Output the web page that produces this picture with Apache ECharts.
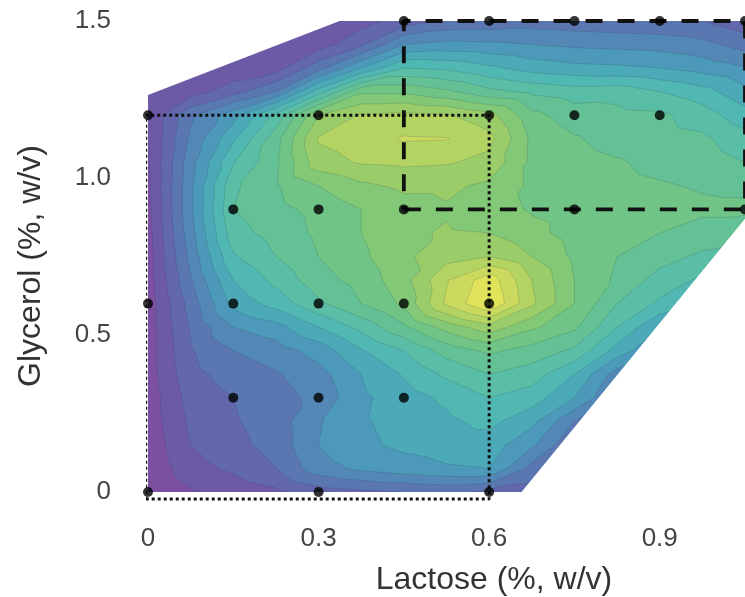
<!DOCTYPE html>
<html><head><meta charset="utf-8">
<script src="https://cdn.jsdelivr.net/npm/echarts@6/dist/echarts.min.js"></script>
<style>html,body{margin:0;padding:0;background:#fff}#chart{width:745px;height:597px}</style>
</head><body><div id="chart"></div>
<script>
// ---- grid of the response surface (lactose across, glycerol up) ----
const lactoseLevels = [0, 0.075, 0.15, 0.225, 0.3, 0.375, 0.45, 0.525, 0.6, 0.675, 0.75, 0.825, 0.9, 0.975, 1.05];
const glycerolLevels = [0, 0.075, 0.15, 0.225, 0.3, 0.375, 0.45, 0.525, 0.6, 0.675, 0.75, 0.825, 0.9, 0.975, 1.05, 1.125, 1.2, 1.275, 1.35, 1.425, 1.5];
// response (contour-band units), one row per glycerol level
const g000 = [0.0, 0.9, 1.3, 1.8, 2.5, 2.8, 3.0, 3.2, 2.8, 2.6, 2.5, 2.5, 2.5, 2.5, 2.5];
const g075 = [0.2, 1.6, 2.2, 3.0, 4.6, 5.2, 5.6, 5.9, 6.0, 3.6, 2.8, 2.8, 2.8, 2.8, 2.8];
const g150 = [0.3, 2.0, 2.7, 3.4, 5.0, 5.8, 6.2, 6.4, 6.5, 5.2, 3.0, 3.0, 3.0, 3.0, 3.0];
const g225 = [0.4, 2.2, 2.9, 3.5, 4.9, 5.9, 6.3, 6.8, 7.3, 6.3, 4.0, 3.3, 3.3, 3.3, 3.3];
const g300 = [0.4, 2.4, 3.0, 3.6, 4.3, 5.8, 6.5, 7.2, 8.0, 7.5, 6.0, 3.8, 3.6, 3.6, 3.6];
const g375 = [0.5, 2.7, 3.4, 3.9, 4.6, 6.0, 7.1, 8.2, 9.0, 8.5, 7.0, 4.5, 4.2, 4.2, 4.2];
const g450 = [0.5, 2.9, 4.0, 4.5, 5.4, 6.9, 8.0, 9.4, 10.2, 9.6, 8.8, 6.6, 5.0, 5.0, 5.0];
const g525 = [0.5, 3.1, 5.0, 5.6, 7.0, 8.3, 9.8, 11.4, 12.6, 11.2, 10.2, 8.0, 6.0, 6.0, 6.0];
const g600 = [0.4, 3.4, 6.3, 7.4, 8.8, 10.0, 11.2, 14.2, 16.0, 13.2, 11.0, 9.0, 7.8, 7.0, 7.0];
const g675 = [0.5, 3.9, 7.0, 8.3, 9.6, 10.4, 11.6, 13.9, 15.6, 13.0, 11.0, 9.8, 8.6, 7.8, 7.8];
const g750 = [0.5, 4.3, 7.9, 9.0, 10.0, 10.8, 11.8, 12.6, 13.0, 12.0, 10.8, 10.0, 9.4, 8.8, 8.6];
const g825 = [0.6, 4.6, 8.6, 9.4, 10.2, 11.0, 11.8, 12.1, 12.0, 11.3, 10.6, 10.3, 10.0, 9.6, 9.4];
const g900 = [0.7, 4.8, 9.0, 9.7, 10.3, 11.0, 11.6, 11.9, 11.4, 10.9, 10.6, 10.5, 10.4, 10.2, 10.2];
const g975 = [0.8, 4.8, 8.8, 9.9, 11.0, 11.8, 12.2, 12.2, 11.8, 10.8, 10.5, 10.3, 10.1, 9.9, 9.8];
const g1050 = [0.9, 4.6, 7.9, 9.8, 12.6, 13.1, 13.2, 13.1, 12.7, 10.8, 10.4, 10.1, 9.7, 9.5, 9.0];
const g1125 = [1.0, 4.2, 6.8, 9.6, 13.1, 13.5, 14.1, 14.05, 13.3, 10.8, 10.1, 9.6, 9.4, 9.2, 8.4];
const g1200 = [1.1, 3.8, 5.6, 8.3, 12.0, 13.1, 13.3, 13.1, 12.4, 10.3, 9.5, 9.3, 9.2, 8.5, 7.4];
const g1275 = [1.1, 1.5, 2.6, 4.0, 7.5, 10.8, 10.8, 10.2, 9.3, 8.8, 8.5, 8.6, 8.0, 7.4, 6.3];
const g1350 = [1.0, 1.0, 1.2, 1.6, 3.6, 6.0, 8.0, 7.8, 7.2, 6.6, 6.3, 6.2, 6.0, 5.6, 5.1];
const g1425 = [1.0, 1.0, 1.0, 1.0, 1.5, 2.8, 5.0, 5.3, 5.2, 5.0, 4.8, 4.7, 4.6, 4.3, 3.6];
const g1500 = [1.0, 1.0, 1.0, 1.0, 1.0, 1.6, 2.4, 3.2, 3.3, 3.5, 3.4, 3.3, 3.2, 3.0, 2.3];
const responseRows = [g000, g075, g150, g225, g300, g375, g450, g525, g600, g675, g750, g825, g900, g975, g1050, g1125, g1200, g1275, g1350, g1425, g1500];

// band colours, lowest band first (band k fills response >= k)
const bandColors = ['#7b50a0', '#6d5aa7', '#6367ab', '#5b77b1', '#5388b6', '#4d99b9', '#4ba9b8', '#51b7b2',
                    '#5abda5', '#64c195', '#70c485', '#82c876', '#9acd69', '#b3d463', '#cbda5e', '#e0e25a'];

// experimental domain outline
const domainLactose = [0, 0.657, 1.05, 1.05, 0.337, 0];
const domainGlycerol = [0, 0, 0.87, 1.5, 1.5, 1.264];

// design points
const designLactose  = [0, 0.3, 0.6, 0.15, 0.3, 0.45, 0, 0.15, 0.3, 0.45, 0.6, 0.15, 0.3, 0.45, 0.75, 1.05, 0, 0.3, 0.6, 0.75, 0.9, 0.45, 0.6, 0.75, 0.9, 1.05];
const designGlycerol = [0, 0, 0, 0.3, 0.3, 0.3, 0.6, 0.6, 0.6, 0.6, 0.6, 0.9, 0.9, 0.9, 0.9, 0.9, 1.2, 1.2, 1.2, 1.2, 1.2, 1.5, 1.5, 1.5, 1.5, 1.5];

// boxes
const dottedBoxLactose = [-0.004, 0.6, 0.6, -0.004, -0.004];
const dottedBoxGlycerol = [-0.022, -0.022, 1.2, 1.2, -0.022];
const dashedBoxLactose = [0.45, 1.05, 1.05, 0.45, 0.45];
const dashedBoxGlycerol = [0.9, 0.9, 1.5, 1.5, 0.9];

// ticks
const xTickValues = [0, 0.3, 0.6, 0.9];
const xTickLabels = ['0', '0.3', '0.6', '0.9'];
const yTickValues = [0, 0.5, 1.0, 1.5];
const yTickLabels = ['0', '0.5', '1.0', '1.5'];

function tickLabel(values, labels) {
  return function (v) {
    for (let i = 0; i < values.length; i++) if (Math.abs(v - values[i]) < 1e-6) return labels[i];
    return '';
  };
}

function buildTriangles(api) {
  const P = glycerolLevels.map(g => lactoseLevels.map(l => api.coord([l, g])));
  const tris = [];
  for (let j = 0; j < glycerolLevels.length - 1; j++) {
    for (let i = 0; i < lactoseLevels.length - 1; i++) {
      const v = (a, b) => ({ x: P[b][a][0], y: P[b][a][1], v: responseRows[b][a] });
      const p00 = v(i, j), p10 = v(i + 1, j), p11 = v(i + 1, j + 1), p01 = v(i, j + 1);
      tris.push([p00, p10, p11], [p00, p11, p01]);
    }
  }
  return tris;
}
function clipTri(tri, t) {
  const out = [];
  for (let m = 0; m < tri.length; m++) {
    const a = tri[m], b = tri[(m + 1) % tri.length];
    const ain = a.v >= t, bin = b.v >= t;
    if (ain) out.push([a.x, a.y]);
    if (ain !== bin) {
      const f = (t - a.v) / (b.v - a.v);
      out.push([a.x + f * (b.x - a.x), a.y + f * (b.y - a.y)]);
    }
  }
  return out;
}
const fmt = p => p[0].toFixed(2) + ' ' + p[1].toFixed(2);

function renderBands(params, api) {
  const tris = buildTriangles(api);
  const children = bandColors.map((color, k) => {
    let d = '';
    for (const t of tris) {
      const poly = k === 0 ? t.map(p => [p.x, p.y]) : clipTri(t, k);
      if (poly.length >= 3) d += 'M' + poly.map(fmt).join('L') + 'Z';
    }
    return { type: 'path', shape: { pathData: d || 'M0 0Z' }, style: { fill: color, stroke: 'none' }, silent: true };
  });
  return { type: 'group', children };
}
function renderLines(params, api) {
  const tris = buildTriangles(api);
  let d = '';
  for (let k = 1; k < bandColors.length; k++) {
    for (const t of tris) {
      const pts = [];
      for (let m = 0; m < 3; m++) {
        const a = t[m], b = t[(m + 1) % 3];
        if ((a.v >= k) !== (b.v >= k)) {
          const f = (k - a.v) / (b.v - a.v);
          pts.push([a.x + f * (b.x - a.x), a.y + f * (b.y - a.y)]);
        }
      }
      if (pts.length === 2) d += 'M' + fmt(pts[0]) + 'L' + fmt(pts[1]);
    }
  }
  return { type: 'path', shape: { pathData: d || 'M0 0' }, style: { fill: 'none', stroke: 'rgba(35,60,70,0.22)', lineWidth: 0.8 }, silent: true };
}
function area(pts) {
  let s = 0;
  for (let i = 0; i < pts.length; i++) { const a = pts[i], b = pts[(i + 1) % pts.length]; s += a[0] * b[1] - b[0] * a[1]; }
  return s;
}
function renderMask(params, api) {
  const lo = api.coord([lactoseLevels[0], glycerolLevels[0]]);
  const hi = api.coord([lactoseLevels[lactoseLevels.length - 1], glycerolLevels[glycerolLevels.length - 1]]);
  const rect = [[lo[0] - 1, lo[1] + 1], [hi[0] + 1, lo[1] + 1], [hi[0] + 1, hi[1] - 1], [lo[0] - 1, hi[1] - 1]];
  let dom = domainLactose.map((x, i) => api.coord([x, domainGlycerol[i]]));
  if (Math.sign(area(dom)) === Math.sign(area(rect))) dom = dom.slice().reverse();
  const d = 'M' + rect.map(fmt).join('L') + 'Z' + 'M' + dom.map(fmt).join('L') + 'Z';
  return { type: 'path', shape: { pathData: d }, style: { fill: '#ffffff', stroke: 'none' }, silent: true };
}

const chart = echarts.init(document.getElementById('chart'), null, { renderer: 'canvas' });
const fontFamily = "'Liberation Sans', Arial, Helvetica, sans-serif";
chart.setOption({
  animation: false,
  backgroundColor: '#ffffff',
  grid: { left: 148, right: 0, top: 21, bottom: 105, containLabel: false },
  xAxis: {
    type: 'value', min: 0, max: 1.05, interval: 0.3,
    axisLine: { show: false }, axisTick: { show: false }, splitLine: { show: false },
    axisLabel: { formatter: tickLabel(xTickValues, xTickLabels), fontSize: 26, color: '#454545', margin: 34, fontFamily, showMaxLabel: false }
  },
  yAxis: {
    type: 'value', min: 0, max: 1.5, interval: 0.5,
    axisLine: { show: false }, axisTick: { show: false }, splitLine: { show: false },
    axisLabel: { formatter: tickLabel(yTickValues, yTickLabels), fontSize: 26, color: '#454545', margin: 37, fontFamily }
  },
  graphic: [
    { type: 'text', x: 494, y: 580, style: { text: 'Lactose (%, w/v)', fontSize: 32, fill: '#333333', align: 'center', verticalAlign: 'middle', fontFamily } },
    { type: 'text', x: 31, y: 266, rotation: Math.PI / 2, style: { text: 'Glycerol (%, w/v)', fontSize: 32, fill: '#333333', align: 'center', verticalAlign: 'middle', fontFamily } }
  ],
  series: [
    { type: 'custom', coordinateSystem: 'cartesian2d', renderItem: renderBands, data: [[0, 0]], z: 1, silent: true, clip: false },
    { type: 'custom', coordinateSystem: 'cartesian2d', renderItem: renderLines, data: [[0, 0]], z: 2, silent: true, clip: false },
    { type: 'custom', coordinateSystem: 'cartesian2d', renderItem: renderMask, data: [[0, 0]], z: 3, silent: true, clip: false },
    { type: 'line', data: dottedBoxLactose.map((x, i) => [x, dottedBoxGlycerol[i]]), symbol: 'none', clip: false, z: 4, silent: true,
      lineStyle: { color: '#111111', width: 3, type: [3, 3] } },
    { type: 'line', data: dashedBoxLactose.map((x, i) => [x, dashedBoxGlycerol[i]]), symbol: 'none', clip: false, z: 4, silent: true,
      lineStyle: { color: '#111111', width: 3.8, type: [17, 15] } },
    { type: 'scatter', data: designLactose.map((x, i) => [x, designGlycerol[i]]), symbolSize: 10, clip: false, z: 5, silent: true,
      itemStyle: { color: '#000000' } }
  ]
});
</script>
</body></html>
